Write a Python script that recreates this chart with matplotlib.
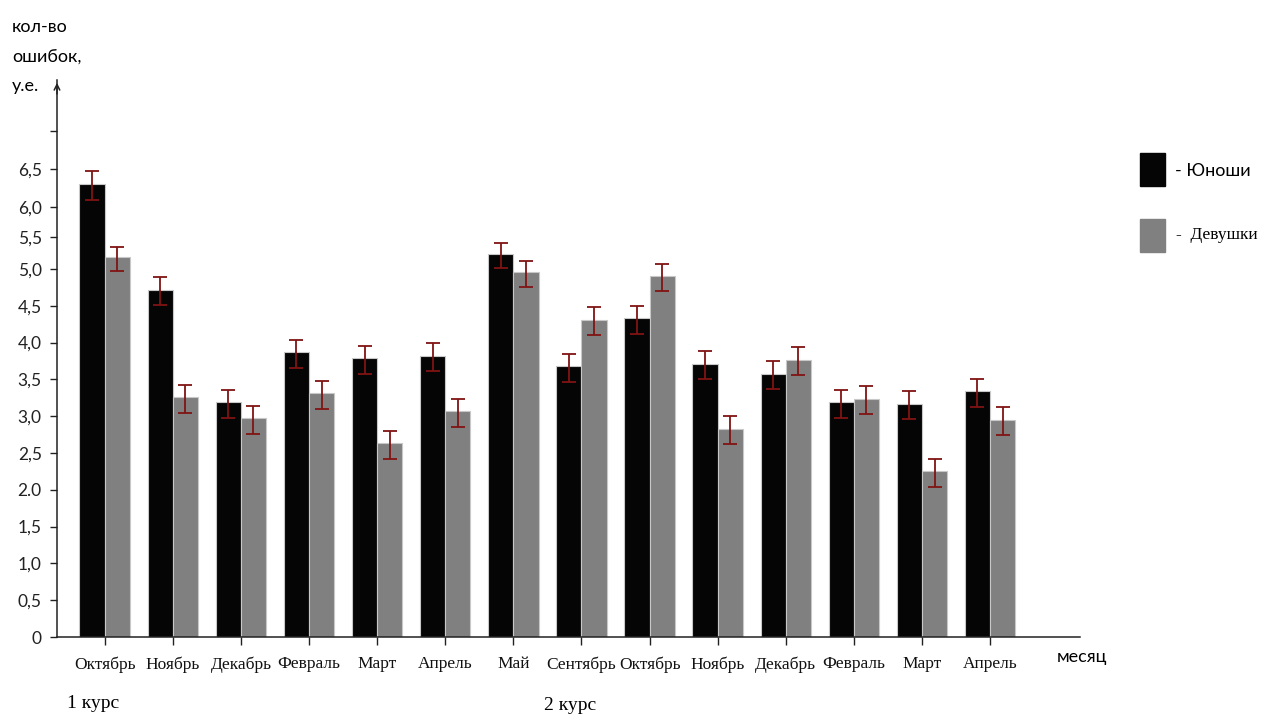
import numpy as np
import matplotlib
matplotlib.use("Agg")
import matplotlib.pyplot as plt
from matplotlib.patches import Rectangle


months = ["Октябрь", "Ноябрь", "Декабрь", "Февраль", "Март", "Апрель", "Май",
          "Сентябрь", "Октябрь", "Ноябрь", "Декабрь", "Февраль", "Март", "Апрель"]

boys = [6.30, 4.72, 3.19, 3.87, 3.79, 3.82, 5.23,
        3.68, 4.33, 3.71, 3.58, 3.19, 3.17, 3.34]
girls = [5.18, 3.26, 2.97, 3.31, 2.63, 3.07, 4.96,
         4.31, 4.91, 2.83, 3.77, 3.24, 2.25, 2.95]

err_up = 0.17
err_lo = 0.21

ytick_vals = [0, 0.5, 1.0, 1.5, 2.0, 2.5, 3.0, 3.5, 4.0, 4.5, 5.0, 5.5, 6.0, 6.5, 7.0]
ytick_labels = ["0", "0,5", "1,0", "1,5", "2.0", "2,5", "3,0", "3,5", "4,0",
                "4,5", "5,0", "5,5", "6,0", "6,5", ""]

COLOR_BOYS = "#050505"
COLOR_GIRLS = "#808080"
COLOR_ERR = "#801414"

# the original axis is not quite linear above 5.0
SCALE_IN = [0, 5.0, 5.5, 6.0, 6.5, 7.0, 10.0]
SCALE_OUT = [0, 5.0, 5.435, 5.842, 6.359, 6.875, 9.97]


def fwd(v):
    return np.interp(v, SCALE_IN, SCALE_OUT)


def inv(v):
    return np.interp(v, SCALE_OUT, SCALE_IN)


fig = plt.figure(figsize=(12.63, 7.16), dpi=100)
ax = fig.add_axes([57 / 1263, 1 - 637 / 716, (1080 - 57) / 1263, (637 - 80) / 716])
ax.set_yscale("function", functions=(fwd, inv))

x = np.arange(len(months))
w = 0.37
yerr = [[err_lo] * len(x), [err_up] * len(x)]
ekw = dict(ecolor=COLOR_ERR, elinewidth=1.3, capsize=5, capthick=1.3)
ax.bar(x - 0.185, boys, w, color=COLOR_BOYS, edgecolor="#c8c8c8", linewidth=0.8,
       yerr=yerr, error_kw=ekw)
ax.bar(x + 0.185, girls, w, color=COLOR_GIRLS, edgecolor="#c8c8c8", linewidth=0.8,
       yerr=yerr, error_kw=ekw)

ax.set_xlim(-0.70, 14.32)
ax.set_ylim(0, inv(7.568))

for s in ["top", "right"]:
    ax.spines[s].set_visible(False)
for s in ["left", "bottom"]:
    ax.spines[s].set_color("#222222")
    ax.spines[s].set_linewidth(1.1)

ax.set_yticks(ytick_vals)
ax.set_yticklabels(ytick_labels, fontfamily="Lato", fontsize=12.5)
ax.yaxis.set_minor_locator(matplotlib.ticker.NullLocator())
ax.tick_params(axis="y", length=5, width=1, pad=6, colors="#222222", labelcolor="#222222")

ax.set_xticks(x)
ax.set_xticklabels(months, fontfamily="Liberation Serif", fontsize=12.5)
ax.tick_params(axis="x", length=6, width=1, pad=8, colors="#222222", labelcolor="#111111")

# arrow on the y axis
ax.annotate("", xy=(0, 1.0), xytext=(0, 0.97), xycoords="axes fraction",
            arrowprops=dict(arrowstyle="->", color="#222222", lw=1.1))

fig.text(12 / 1263, 1 - 27 / 716, "кол-во", fontfamily="Lato", fontsize=13, va="center")
fig.text(12 / 1263, 1 - 58 / 716, "ошибок,", fontfamily="Lato", fontsize=13, va="center")
fig.text(12 / 1263, 1 - 86 / 716, "у.е.", fontfamily="Lato", fontsize=13, va="center")

fig.text(1057 / 1263, 1 - 657 / 716, "месяц", fontfamily="Lato", fontsize=13, va="center")
fig.text(93 / 1263, 1 - 703 / 716, "1 курс", fontfamily="Liberation Serif", fontsize=14,
         ha="center", va="center")
fig.text(570 / 1263, 1 - 705 / 716, "2 курс", fontfamily="Liberation Serif", fontsize=14,
         ha="center", va="center")

# legend
fig.add_artist(Rectangle((1140 / 1263, 1 - 186 / 716), 25 / 1263, 33 / 716,
                         transform=fig.transFigure, color=COLOR_BOYS))
fig.add_artist(Rectangle((1140 / 1263, 1 - 252 / 716), 25 / 1263, 33 / 716,
                         transform=fig.transFigure, color=COLOR_GIRLS))
fig.text(1175 / 1263, 1 - 171 / 716, "- Юноши", fontfamily="Lato", fontsize=13, va="center")
fig.text(1176 / 1263, 1 - 235 / 716, "-  Девушки", fontfamily="Liberation Serif",
         fontsize=12.5, va="center")

fig.savefig("out.png", dpi=100)
